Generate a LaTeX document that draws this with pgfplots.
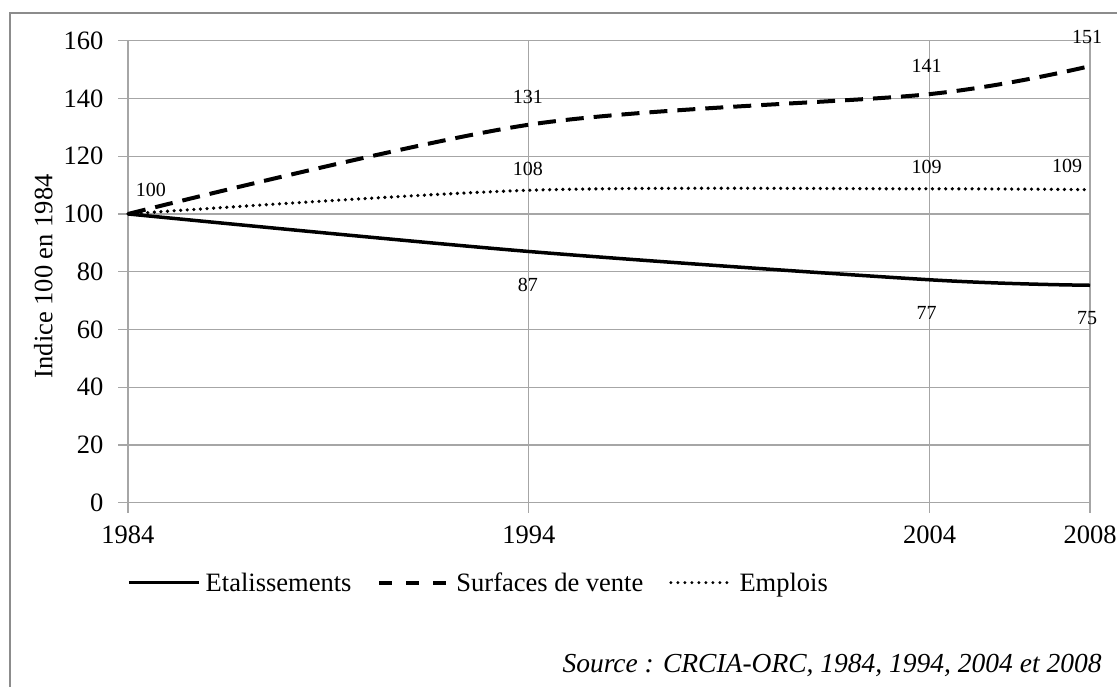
\documentclass[border=0pt]{standalone}
\usepackage{pgfplots}
\pgfplotsset{compat=1.18}
\usepackage{fontspec}
\setmainfont{Liberation Serif}
\definecolor{gridgray}{HTML}{A6A6A6}
\definecolor{framegray}{HTML}{8C8C8C}
\newcommand{\fbig}{\fontsize{26.5}{30}\selectfont}
\newcommand{\fytick}{\fontsize{26.5}{30}\selectfont}
\newcommand{\flab}{\fontsize{20}{23}\selectfont}
\begin{document}
\begin{tikzpicture}
\useasboundingbox (0pt,0pt) rectangle (1117pt,687pt);
\fill[white] (0pt,0pt) rectangle (1117pt,687pt);
\draw[framegray, line width=2.5pt] (10pt,0pt) -- (10pt,674pt) -- (1120pt,674pt);
\begin{axis}[
  at={(128pt,184.3pt)}, anchor=south west,
  scale only axis, width=962pt, height=462pt,
  xmin=1984, xmax=2008, ymin=0, ymax=160,
  clip=false,
  xtick={1984,1994,2004,2008},
  ytick={0,20,40,60,80,100,120,140,160},
  /pgf/number format/assume math mode=true,
  /pgf/number format/1000 sep={},
  axis line style={gridgray, line width=1.3pt},
  grid=major, major grid style={gridgray, line width=1.3pt},
  tick align=outside, tick pos=left,
  major tick length=10pt,
  every tick/.style={gridgray, line width=1.3pt},
  yticklabel style={font=\fytick, inner sep=0pt, anchor=east, xshift=-14.5pt},
  xticklabel style={font=\fbig, inner sep=0pt, anchor=north, yshift=-13pt},
  ylabel={Indice 100 en 1984},
  every axis y label/.style={at={(axis description cs:-0.088,0.49)}, rotate=90, anchor=center, font=\fbig},
  legend columns=3,
  legend style={draw=none, fill=none, at={(-0.001,-0.173)}, anchor=west, font=\fbig,
    inner sep=0pt, nodes={inner sep=1pt},
    /tikz/every odd column/.append style={column sep=4pt},
    /tikz/every even column/.append style={column sep=25pt}},
  legend cell align=left,
]
\addplot[black, line width=3.5pt, smooth, tension=0.5,
  legend image code/.code={\draw[black, line width=3.5pt] (0pt,0pt) -- (70pt,0pt);}]
  coordinates {(1984,100) (1994,87.0) (2004,77.2) (2008,75.3)};
\addlegendentry{Etalissements}
\addplot[black, line width=4pt, smooth, tension=0.5, dash pattern=on 18pt off 10pt,
  legend image code/.code={\draw[black, line width=4pt, dash pattern=on 13pt off 14pt] (0pt,0pt) -- (70pt,0pt);}]
  coordinates {(1984,100) (1994,130.9) (2004,141.5) (2008,151.2)};
\addlegendentry{Surfaces de vente}
\addplot[black, line width=3.6pt, smooth, tension=0.5, line cap=round, dash pattern=on 0pt off 6.6pt,
  legend image code/.code={\draw[black, line width=3.2pt, line cap=round, dash pattern=on 0pt off 7pt] (0pt,0pt) -- (62pt,0pt);}]
  coordinates {(1984,100) (1994,108.2) (2004,108.7) (2008,108.4)};
\addlegendentry{Emplois}
% data labels
\node[font=\flab, xshift=23pt, yshift=24pt] at (axis cs:1984,100) {100};
\node[font=\flab, xshift=-1pt, yshift=28pt] at (axis cs:1994,130.9) {131};
\node[font=\flab, xshift=-3pt, yshift=28.6pt] at (axis cs:2004,141.5) {141};
\node[font=\flab, xshift=-3pt, yshift=29.4pt] at (axis cs:2008,151.2) {151};
\node[font=\flab, xshift=-1pt, yshift=21.7pt] at (axis cs:1994,108.2) {108};
\node[font=\flab, xshift=-3pt, yshift=22.3pt] at (axis cs:2004,108.7) {109};
\node[font=\flab, xshift=-23pt, yshift=23.3pt] at (axis cs:2008,108.4) {109};
\node[font=\flab, xshift=-1pt, yshift=-33.3pt] at (axis cs:1994,87.0) {87};
\node[font=\flab, xshift=-3pt, yshift=-33pt] at (axis cs:2004,77.2) {77};
\node[font=\flab, xshift=-3pt, yshift=-32.3pt] at (axis cs:2008,75.3) {75};
\end{axis}
\node[anchor=east, font=\fontsize{27.5}{31}\selectfont\itshape, inner sep=0pt] at (1101.7pt,22pt) {Source : CRCIA-ORC, 1984, 1994, 2004 et 2008};
\end{tikzpicture}
\end{document}
